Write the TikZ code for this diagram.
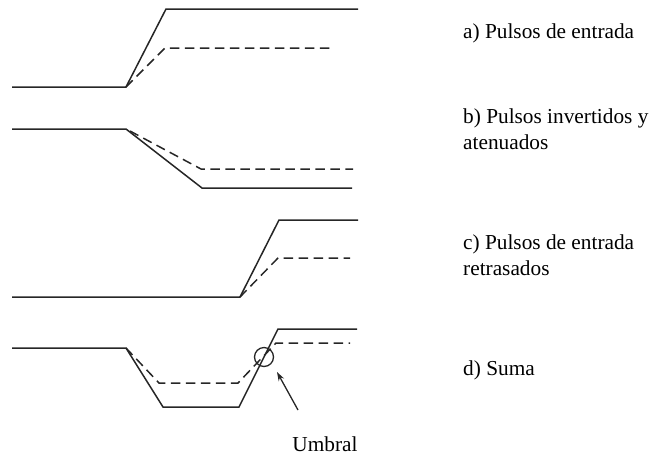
\documentclass[tikz,border=0pt]{standalone}
\usepackage{fontspec}
\setmainfont{Liberation Serif}
\usetikzlibrary{arrows.meta}
\begin{document}
\begin{tikzpicture}[x=1pt,y=-1pt,
  wave/.style={line width=1.5pt,draw=black!85,line join=miter},
  wavedash/.style={wave,dash pattern=on 9.5pt off 5.5pt},
  lbl/.style={anchor=base west,align=left,inner sep=0pt,
    font=\fontsize{21.3}{26}\selectfont},
  pointer/.style={line width=1.3pt,draw=black!85,-{Stealth[length=9pt,width=6pt]}}]
\useasboundingbox (0,0) rectangle (652,459);

% a) input pulse and its attenuated copy
\draw[wave] (12,87) -- (126,87) -- (166,9) -- (358,9);
\draw[wavedash] (126,87) -- (165,48) -- (333,48);

% b) inverted, attenuated pulse
\draw[wave] (12,129) -- (126,129) -- (202,188) -- (352,188);
\draw[wavedash] (130,131) -- (201,169) -- (353,169);

% c) delayed input pulse
\draw[wave] (12,297) -- (240,297) -- (279,220) -- (358,220);
\draw[wavedash] (240,297) -- (278,258) -- (350,258);

% d) sum of b) and c)
\draw[wave] (12,348) -- (126,348) -- (163,407) -- (239,407) -- (278,329) -- (357,329);
\draw[wavedash] (126,348) -- (159,383) -- (238,383) -- (276,343) -- (350,343);

% threshold crossing marker
\node[circle,draw=black!85,line width=1.3pt,minimum size=19pt,inner sep=0pt] (thr) at (264,357) {};
\coordinate (tail) at (298,410);
\coordinate (tip) at (277,372);
\draw[pointer] (tail) -- (tip);
\node[anchor=base,inner sep=0pt,font=\fontsize{21.3}{26}\selectfont] (umbral) at (325,451) {Umbral};

% captions (base anchor sits on the last line)
\node[lbl] (la) at (463,38) {a) Pulsos de entrada};
\node[lbl] (lb) at (463,149) {b) Pulsos invertidos y\\atenuados};
\node[lbl] (lc) at (463,275) {c) Pulsos de entrada\\retrasados};
\node[lbl] (ld) at (463,375) {d) Suma};
\end{tikzpicture}
\end{document}
